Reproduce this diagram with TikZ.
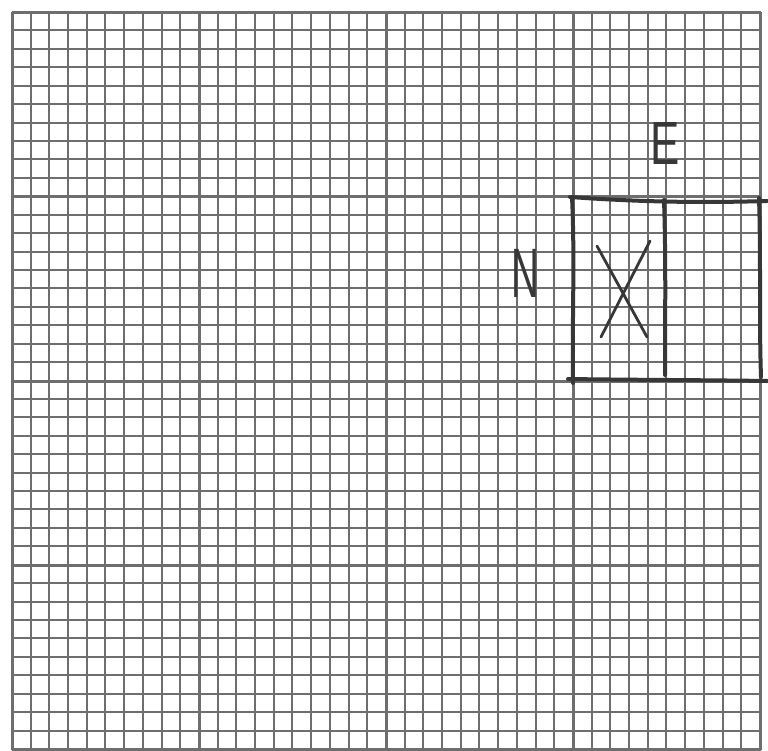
\documentclass[tikz,border=0pt]{standalone}
\usepackage{fontspec}
\setmainfont{Liberation Sans}
\definecolor{gridc}{RGB}{110,110,110}
\definecolor{penc}{RGB}{55,55,55}
\tikzset{
  minorline/.style={draw=gridc, line width=2pt},
  majorline/.style={draw=gridc, line width=3pt},
  penline/.style={draw=penc, line width=4pt, line cap=round, line join=round},
  penthin/.style={draw=penc, line width=2.8pt, line cap=round},
  letter/.style={text=penc, inner sep=0pt, anchor=center}
}
\begin{document}
\begin{tikzpicture}[x=1pt,y=-1pt]
\useasboundingbox (0,0) rectangle (768,751);
\fill[white] (0,0) rectangle (768,751);
% minor grid
\foreach \i [evaluate=\i as \xx using {round(12+\i*18.7)},
             evaluate=\i as \yy using {round(12+\i*18.425)}] in {1,...,39}{
  \draw[minorline] (\xx,12) -- (\xx,749);
  \draw[minorline] (12,\yy) -- (760,\yy);
}
% major grid
\foreach \i [evaluate=\i as \xx using {round(12+\i*18.7)+0.5},
             evaluate=\i as \yy using {round(12+\i*18.425)+0.5}] in {0,10,20,30,40}{
  \draw[majorline] (\xx,12) -- (\xx,749.5);
  \draw[majorline] (12,\yy) -- (760.5,\yy);
}
% hand-drawn box
\draw[penline] (570,197) .. controls (640,202) and (700,203) .. (767,201);
\draw[penline] (572,197) .. controls (575,260) and (572,320) .. (573,383);
\draw[penline] (568,379) .. controls (640,380) and (700,380) .. (767,381);
\draw[penline] (759,198) .. controls (761,260) and (759,320) .. (761,377);
\draw[penline] (664,200) .. controls (666,260) and (665,320) .. (665,375);
% X
\draw[penthin] (597,246) -- (647,337);
\draw[penthin] (650,241) -- (601,337);
% letters
\node[letter] (labE) at (665,144) {\scalebox{0.72}[1]{\fontsize{61}{61}\selectfont E}};
\node[letter] (labN) at (525,273) {\scalebox{0.55}[1]{\fontsize{70}{70}\selectfont N}};
\end{tikzpicture}
\end{document}
